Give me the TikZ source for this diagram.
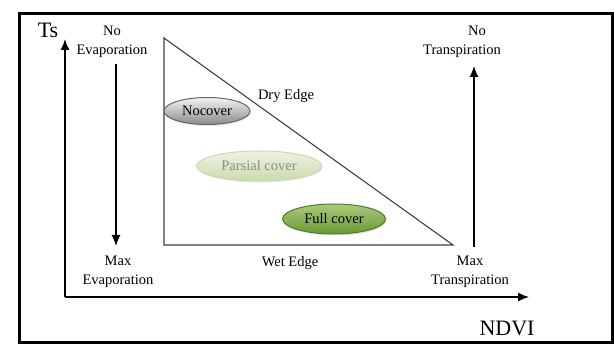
\documentclass[tikz,border=0pt]{standalone}
\usepackage{fontspec}
\setmainfont{Liberation Serif}
\usetikzlibrary{arrows.meta, shapes.geometric, shadows}

\definecolor{greylight}{HTML}{F4F4F4}
\definecolor{greydark}{HTML}{8A8A8A}
\definecolor{palegreen}{HTML}{EEF4E2}
\definecolor{palegreendark}{HTML}{CADAB0}
\definecolor{leafgreen}{HTML}{AACB7A}
\definecolor{leafgreendark}{HTML}{6A9834}

\begin{document}
\begin{tikzpicture}[
    x=1pt, y=-1pt,
    every node/.style={
        font=\fontsize{14.5}{19}\selectfont,
        align=center,
        inner sep=0pt
    },
    bigtext/.style={font=\fontsize{22}{24}\selectfont},
    cover/.style={
        ellipse,
        line width=1pt,
        drop shadow={opacity=0.2, shadow xshift=1pt, shadow yshift=-1.5pt}
    },
    nocover/.style={cover, top color=greylight, bottom color=greydark, draw=black!60,
        minimum width=86pt, minimum height=27pt},
    partial/.style={cover, top color=palegreen, bottom color=palegreendark, draw=palegreendark,
        text=black!45, minimum width=125pt, minimum height=30pt},
    full/.style={cover, top color=leafgreen, bottom color=leafgreendark, draw=leafgreendark!80!black,
        minimum width=103pt, minimum height=30pt},
    axis/.style={line width=1.4pt, -{Latex[length=11pt,width=9pt]}},
    flow/.style={line width=1.2pt, -{Latex[length=11pt,width=9pt]}},
    edge/.style={line width=1.1pt, draw=black!75, line join=miter}
]

\useasboundingbox (0,0) rectangle (614,344);
\fill[white] (0,0) rectangle (614,344);

% outer frame
\draw[line width=3pt] (19.5,13.5) rectangle (612,342.5);

% axes
\coordinate (origin) at (65,297);
\coordinate (ytop) at (65,39);
\coordinate (xend) at (529,297);
\draw[axis] (origin) -- (ytop);
\draw[axis] (origin) -- (xend);
\node[bigtext] (ts) at (48,30) {Ts};
\node[bigtext] (ndvi) at (507,328) {NDVI};

% triangle
\coordinate (top) at (164,38);
\coordinate (wetleft) at (164,245);
\coordinate (wetright) at (453,245);
\draw[edge] (top) -- (wetleft) -- (wetright) -- cycle;
\node (dry) at (286,96) {Dry Edge};
\node (wet) at (290,263) {Wet Edge};

% cover classes
\node[nocover] (bare) at (207,111) {Nocover};
\node[partial] (partcover) at (259,166) {Parsial cover};
\node[full] (fullcover) at (334,219) {Full cover};

% evaporation side
\node (noevap) at (112,42) {No\\Evaporation};
\node (maxevap) at (118,272) {Max\\Evaporation};
\coordinate (evtop) at (116,64);
\coordinate (evbot) at (116,246);
\draw[flow] (evtop) -- (evbot);

% transpiration side
\node (notrans) at (462,42) {\hspace*{30pt}No\\Transpiration};
\node (maxtrans) at (470,272) {Max\\Transpiration};
\coordinate (trbot) at (474,247);
\coordinate (trtop) at (474,66);
\draw[flow] (trbot) -- (trtop);

\end{tikzpicture}
\end{document}
